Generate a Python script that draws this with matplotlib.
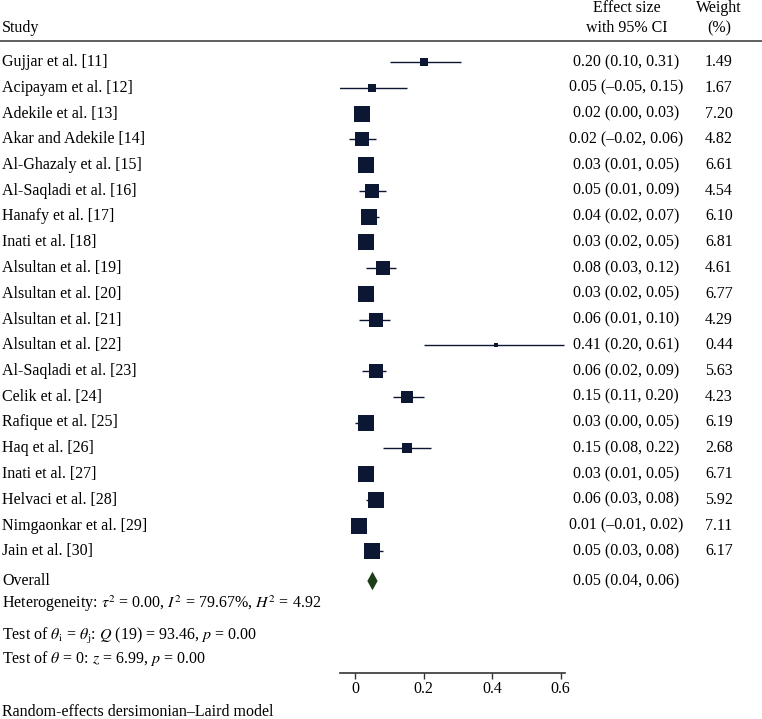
"""Forest plot: random-effects meta-analysis (DerSimonian–Laird)."""

import matplotlib

matplotlib.use("Agg")

import matplotlib.pyplot as plt
import numpy as np
from matplotlib.patches import Polygon
from matplotlib.transforms import blended_transform_factory

studies = [
    "Gujjar et al. [11]", "Acipayam et al. [12]", "Adekile et al. [13]",
    "Akar and Adekile [14]", "Al-Ghazaly et al. [15]", "Al-Saqladi et al. [16]",
    "Hanafy et al. [17]", "Inati et al. [18]", "Alsultan et al. [19]",
    "Alsultan et al. [20]", "Alsultan et al. [21]", "Alsultan et al. [22]",
    "Al-Saqladi et al. [23]", "Celik et al. [24]", "Rafique et al. [25]",
    "Haq et al. [26]", "Inati et al. [27]", "Helvaci et al. [28]",
    "Nimgaonkar et al. [29]", "Jain et al. [30]",
]
effect = [0.20, 0.05, 0.02, 0.02, 0.03, 0.05, 0.04, 0.03, 0.08, 0.03,
          0.06, 0.41, 0.06, 0.15, 0.03, 0.15, 0.03, 0.06, 0.01, 0.05]
ci_low = [0.10, -0.05, 0.00, -0.02, 0.01, 0.01, 0.02, 0.02, 0.03, 0.02,
          0.01, 0.20, 0.02, 0.11, 0.00, 0.08, 0.01, 0.03, -0.01, 0.03]
ci_high = [0.31, 0.15, 0.03, 0.06, 0.05, 0.09, 0.07, 0.05, 0.12, 0.05,
           0.10, 0.61, 0.09, 0.20, 0.05, 0.22, 0.05, 0.08, 0.02, 0.08]
weights = [1.49, 1.67, 7.20, 4.82, 6.61, 4.54, 6.10, 6.81, 4.61, 6.77,
           4.29, 0.44, 5.63, 4.23, 6.19, 2.68, 6.71, 5.92, 7.11, 6.17]
overall = (0.05, 0.04, 0.06)
xticks = [0, 0.2, 0.4, 0.6]

SQUARE = "#0b1733"
DIAMOND = "#1b3d17"
W, H = 762, 719

plt.rcParams["font.family"] = ["Liberation Serif", "DejaVu Serif"]
plt.rcParams["mathtext.fontset"] = "stix"
FS = 11.5


def fmt(v):
    return f"{v:.2f}".replace("-", "–")


def py(px):
    # pixel row -> data row (row 0 = first study at px 62, 25.75 px per row)
    return (px - 62) / 25.75


fig = plt.figure(figsize=(W / 100, H / 100), dpi=100)
# axes: x from px 340 to 565, y from px 41 (header rule) to 673 (axis line)
ax = fig.add_axes([340 / W, 1 - 673 / H, 225 / W, (673 - 41) / H])
ax.set_ylim(py(673), py(41))
ax.set_xlim(-0.045, 0.613)
for s in ("top", "left", "right"):
    ax.spines[s].set_visible(False)
ax.spines["bottom"].set_color("#333333")
ax.spines["bottom"].set_linewidth(1.2)
ax.set_yticks([])
ax.set_xticks(xticks)
ax.set_xticklabels(["0", "0.2", "0.4", "0.6"], fontsize=FS)
ax.tick_params(axis="x", length=4, width=1, color="#333333", pad=2)

rows = np.arange(len(studies))
for y, e, lo, hi, w in zip(rows, effect, ci_low, ci_high, weights):
    ax.plot([lo, hi], [y, y], color=SQUARE, lw=1, solid_capstyle="butt")
    ax.plot(e, y, marker="s", color=SQUARE, ms=6.3 * np.sqrt(w) * 0.72, mew=0)

y_over = py(581)
ax.add_patch(Polygon([[overall[1] - 0.005, y_over], [overall[0], y_over - 0.36],
                      [overall[2] + 0.005, y_over], [overall[0], y_over + 0.36]],
                     closed=True, color=DIAMOND, lw=0))

tr = blended_transform_factory(fig.transFigure, ax.transData)
for y, name, e, lo, hi, w in zip(rows, studies, effect, ci_low, ci_high, weights):
    fig.text(2 / W, y, name, transform=tr, va="center", fontsize=FS)
    fig.text(626 / W, y, f"{fmt(e)} ({fmt(lo)}, {fmt(hi)})", transform=tr,
             va="center", ha="center", fontsize=FS)
    fig.text(719 / W, y, f"{w:.2f}", transform=tr, va="center", ha="center", fontsize=FS)

fig.text(2 / W, y_over, "Overall", transform=tr, va="center", fontsize=FS)
fig.text(626 / W, y_over, f"{fmt(overall[0])} ({fmt(overall[1])}, {fmt(overall[2])})",
         transform=tr, va="center", ha="center", fontsize=FS)
fig.text(2 / W, py(604),
         r"Heterogeneity: $\tau^2$ = 0.00, $I^2$ = 79.67%, $H^2$ = 4.92",
         transform=tr, va="center", fontsize=FS)
fig.text(2 / W, py(636),
         r"Test of $\theta_\mathrm{i}$ = $\theta_\mathrm{j}$: $Q$ (19) = 93.46, $p$ = 0.00",
         transform=tr, va="center", fontsize=FS)
fig.text(2 / W, py(659),
         r"Test of $\theta$ = 0: $z$ = 6.99, $p$ = 0.00",
         transform=tr, va="center", fontsize=FS)

# header
fig.text(2 / W, 1 - 28 / H, "Study", va="center", fontsize=FS)
fig.text(627 / W, 1 - 8 / H, "Effect size", va="center", ha="center", fontsize=FS)
fig.text(627 / W, 1 - 28 / H, "with 95% CI", va="center", ha="center", fontsize=FS)
fig.text(719 / W, 1 - 8 / H, "Weight", va="center", ha="center", fontsize=FS)
fig.text(719 / W, 1 - 28 / H, "(%)", va="center", ha="center", fontsize=FS)
fig.add_artist(plt.Line2D([0, 1], [1 - 41 / H, 1 - 41 / H], color="#444444", lw=1.2))

fig.text(2 / W, 1 - 712 / H, "Random-effects dersimonian–Laird model", va="center", fontsize=FS)

fig.savefig("out.png", dpi=100)
